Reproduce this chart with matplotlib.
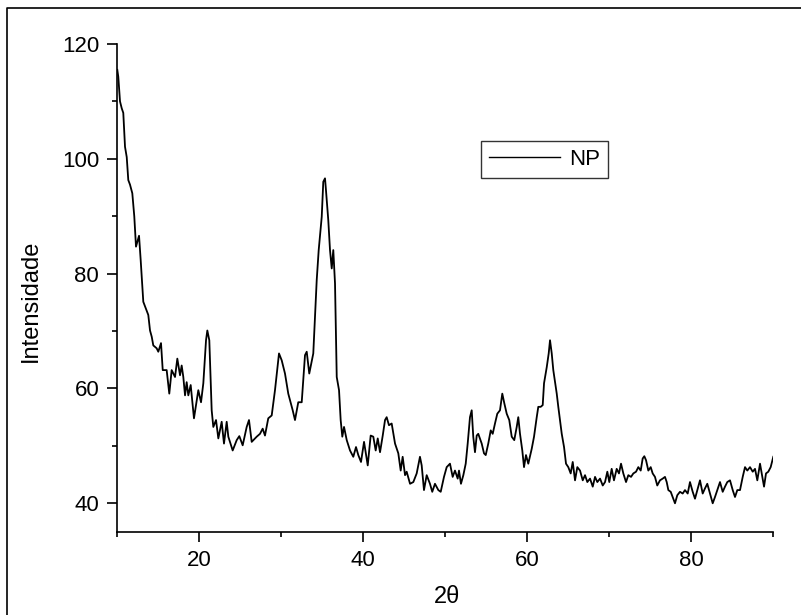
import matplotlib
matplotlib.use("Agg")
import matplotlib.pyplot as plt
from matplotlib.lines import Line2D

plt.rcParams['font.family'] = ['Liberation Sans', 'DejaVu Sans']

# XRD pattern
two_theta = [
    10.0, 10.12, 10.33, 10.54, 10.73, 10.94, 11.15, 11.34, 11.55, 11.83, 12.07, 12.28, 12.65, 12.85,
    13.17, 13.78, 13.99, 14.2, 14.39, 14.8, 15.0, 15.33, 15.54, 16.02, 16.34, 16.63, 17.04, 17.32,
    17.65, 17.85, 18.05, 18.26, 18.46, 18.66, 18.95, 19.35, 19.88, 20.21, 20.49, 20.82, 20.98, 21.22,
    21.51, 21.71, 22.04, 22.32, 22.73, 23.01, 23.34, 23.54, 24.07, 24.56, 24.88, 25.29, 25.78, 26.06,
    26.39, 27.0, 27.4, 27.73, 28.01, 28.41, 28.83, 29.23, 29.72, 30.05, 30.45, 30.85, 31.39, 31.67,
    32.07, 32.49, 32.89, 33.1, 33.41, 33.9, 34.32, 34.56, 34.93, 35.12, 35.33, 35.45, 35.73, 35.94,
    36.15, 36.34, 36.55, 36.76, 37.04, 37.24, 37.44, 37.65, 37.98, 38.38, 38.78, 39.11, 39.39, 39.72,
    40.09, 40.54, 40.9, 41.22, 41.51, 41.76, 42.04, 42.37, 42.65, 42.85, 43.13, 43.46, 43.87, 44.27,
    44.56, 44.8, 45.09, 45.29, 45.7, 46.1, 46.51, 46.91, 47.12, 47.4, 47.73, 48.13, 48.41, 48.74,
    49.15, 49.44, 49.84, 50.17, 50.57, 50.9, 51.18, 51.51, 51.67, 51.91, 52.2, 52.49, 52.73, 53.01,
    53.22, 53.41, 53.62, 53.83, 54.02, 54.44, 54.72, 54.93, 55.24, 55.54, 55.78, 56.06, 56.34, 56.67,
    56.95, 57.2, 57.49, 57.8, 58.1, 58.41, 58.71, 58.9, 59.11, 59.39, 59.6, 59.84, 60.12, 60.54,
    60.82, 61.15, 61.34, 61.63, 61.88, 62.04, 62.37, 62.61, 62.77, 62.98, 63.17, 63.59, 63.78, 64.2,
    64.48, 64.72, 65.0, 65.29, 65.54, 65.82, 66.1, 66.43, 66.76, 67.04, 67.32, 67.65, 67.98, 68.26,
    68.54, 68.87, 69.2, 69.48, 69.76, 70.0, 70.29, 70.57, 70.9, 71.18, 71.43, 71.71, 72.04, 72.32,
    72.65, 72.93, 73.26, 73.54, 73.83, 74.07, 74.27, 74.48, 74.76, 75.05, 75.29, 75.57, 75.85, 76.18,
    76.51, 76.79, 77.0, 77.2, 77.49, 77.73, 78.01, 78.29, 78.62, 78.95, 79.23, 79.56, 79.84, 80.17,
    80.45, 80.73, 81.06, 81.39, 81.67, 81.95, 82.28, 82.61, 82.89, 83.17, 83.5, 83.83, 84.11, 84.39,
    84.72, 85.05, 85.33, 85.61, 85.94, 86.27, 86.55, 86.83, 87.16, 87.49, 87.77, 88.05, 88.38, 88.59,
    88.87, 89.11, 89.39, 89.68, 90.0,
]
intensity = [
    115.5, 114.3, 110.0, 108.8, 108.0, 102.1, 100.3, 96.3, 95.5, 94.0, 90.0, 84.7, 86.6, 82.4,
    75.1, 72.8, 70.1, 69.0, 67.5, 67.0, 66.4, 67.9, 63.2, 63.2, 59.1, 63.2, 62.0, 65.2,
    62.3, 64.0, 62.0, 58.8, 61.1, 58.8, 60.6, 54.8, 59.7, 57.6, 60.9, 68.4, 70.1, 68.4,
    56.2, 53.3, 54.5, 51.3, 54.2, 50.4, 54.2, 51.6, 49.2, 51.0, 51.7, 50.1, 53.3, 54.5,
    50.7, 51.6, 52.1, 53.0, 51.8, 54.8, 55.3, 59.7, 66.1, 64.9, 62.6, 59.1, 56.2, 54.5,
    57.6, 57.6, 65.8, 66.4, 62.6, 66.1, 78.9, 84.1, 89.9, 96.0, 96.6, 94.5, 89.3, 84.1,
    80.9, 84.1, 78.3, 62.0, 59.7, 54.5, 51.6, 53.3, 51.0, 49.2, 48.1, 49.8, 48.4, 47.2,
    50.7, 46.6, 51.8, 51.6, 49.2, 51.3, 48.9, 51.8, 54.5, 55.0, 53.6, 53.9, 50.4, 48.7,
    45.7, 48.1, 44.9, 45.5, 43.4, 43.7, 45.2, 48.1, 46.6, 42.3, 44.9, 43.4, 42.0, 43.4,
    42.3, 42.0, 44.6, 46.3, 46.9, 44.6, 45.7, 44.3, 45.7, 43.4, 44.9, 46.9, 50.4, 55.0,
    56.2, 51.6, 48.9, 51.8, 52.1, 50.4, 48.7, 48.4, 50.4, 52.7, 52.1, 53.9, 55.6, 56.2,
    59.1, 57.4, 55.6, 54.5, 51.6, 51.0, 53.3, 55.0, 52.1, 49.2, 46.3, 48.4, 46.9, 49.5,
    51.6, 55.0, 56.8, 56.8, 57.1, 60.9, 63.7, 66.1, 68.4, 66.1, 63.2, 59.1, 56.8, 52.1,
    49.8, 46.9, 46.3, 45.2, 47.2, 44.0, 46.3, 45.7, 44.0, 44.9, 43.7, 44.3, 42.9, 44.6,
    43.7, 44.3, 43.1, 43.7, 45.5, 43.7, 46.0, 44.0, 46.0, 45.2, 46.9, 45.2, 43.7, 44.9,
    44.6, 45.2, 45.5, 46.3, 45.7, 47.8, 48.2, 47.5, 45.7, 46.3, 45.2, 44.6, 43.1, 44.0,
    44.3, 44.6, 43.7, 42.3, 42.0, 41.1, 40.0, 41.4, 42.0, 41.7, 42.3, 41.7, 43.7, 42.0,
    40.8, 42.3, 44.0, 41.7, 42.6, 43.4, 41.7, 40.0, 41.1, 42.3, 43.7, 42.0, 42.9, 43.7,
    44.0, 42.3, 41.1, 42.3, 42.3, 44.6, 46.3, 45.7, 46.3, 45.5, 46.0, 44.0, 46.9, 45.2,
    42.9, 45.2, 45.5, 46.3, 48.1,
]

x_ticks = [20, 40, 60, 80]
x_minor = [10, 30, 50, 70, 90]
y_ticks = [40, 60, 80, 100, 120]
y_minor = [50, 70, 90, 110]

fig = plt.figure(figsize=(8.01, 6.15), dpi=100)
ax = fig.add_axes([117.3 / 801, 83 / 615, 656 / 801, 488 / 615])

ax.plot(two_theta, intensity, color="black", linewidth=1.3, label="NP")

ax.set_xlim(10, 90)
ax.set_ylim(35, 120)
ax.set_xticks(x_ticks)
ax.set_xticks(x_minor, minor=True)
ax.set_yticks(y_ticks)
ax.set_yticks(y_minor, minor=True)

for side in ["top", "right"]:
    ax.spines[side].set_visible(False)
for side in ["left", "bottom"]:
    ax.spines[side].set_linewidth(1.2)

ax.tick_params(which="major", length=7, width=1.2, labelsize=16, pad=6, direction="out")
ax.tick_params(which="minor", length=3.5, width=1.2, direction="out")

ax.set_xlabel("2θ", fontsize=17, va="center")
ax.xaxis.set_label_coords(0.5026, -0.133)
ax.set_ylabel("Intensidade", fontsize=17, va="center")
ax.yaxis.set_label_coords(-0.131, 0.473)

leg = fig.legend(loc="upper left", bbox_to_anchor=(481 / 801, 1 - 141 / 615),
                 fontsize=16, frameon=True, fancybox=False, handlelength=3.2,
                 handletextpad=0.4, borderpad=0.35, borderaxespad=0)
leg.get_frame().set_edgecolor("black")
leg.get_frame().set_linewidth(1.0)
for line in leg.get_lines():
    line.set_linewidth(1.0)

# frame round the whole picture
fig.add_artist(Line2D([7 / 801, 7 / 801, 1.0], [0.0, 1 - 8 / 615, 1 - 8 / 615],
                      color="black", linewidth=1.2, transform=fig.transFigure))

fig.savefig("out.png", dpi=100)
